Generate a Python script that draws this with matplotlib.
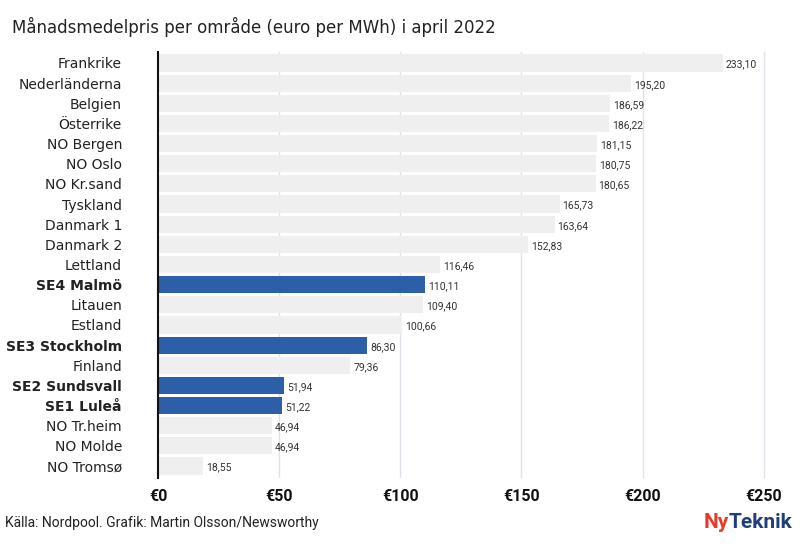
import numpy as np
import matplotlib.pyplot as plt

# Data
areas = ["Frankrike", "Nederländerna", "Belgien", "Österrike", "NO Bergen",
         "NO Oslo", "NO Kr.sand", "Tyskland", "Danmark 1", "Danmark 2",
         "Lettland", "SE4 Malmö", "Litauen", "Estland", "SE3 Stockholm",
         "Finland", "SE2 Sundsvall", "SE1 Luleå", "NO Tr.heim", "NO Molde",
         "NO Tromsø"]
prices = [233.10, 195.20, 186.59, 186.22, 181.15, 180.75, 180.65, 165.73,
          163.64, 152.83, 116.46, 110.11, 109.40, 100.66, 86.30, 79.36,
          51.94, 51.22, 46.94, 46.94, 18.55]
ticks = [0, 50, 100, 150, 200, 250]

GREY = "#efefef"
BLUE = "#2d5ea8"
NARROW = ["Roboto", "DejaVu Sans"]

fig = plt.figure(figsize=(8.08, 5.47), dpi=100)
ax = fig.add_axes([158 / 808, 69 / 547, 630 / 808, 426 / 547])

n = len(areas)
ypos = np.arange(n)
swedish = [a.startswith("SE") for a in areas]
colors = [BLUE if s else GREY for s in swedish]

ax.barh(ypos, prices, height=0.85, color=colors, zorder=2)
ax.set_xlim(0, 260)
spacing = (466 - 63) / (n - 1)
ax.set_ylim(n - 1 + 12 / spacing, -11 / spacing)

for x in ticks[1:]:
    ax.axvline(x, color="#dfe2e8", lw=1, zorder=1)

for y, v in zip(ypos, prices):
    ax.text(v + 1.2, y + 0.08, "{:.2f}".format(v).replace(".", ","),
            va="center", ha="left", fontsize=7.5, color="#333333", family=NARROW)

ax.set_yticks(ypos)
ax.set_yticklabels(areas)
for lab, s in zip(ax.get_yticklabels(), swedish):
    lab.set_fontsize(10)
    lab.set_color("#222222")
    if s:
        lab.set_fontweight("bold")

ax.set_xticks(ticks)
ax.set_xticklabels(["€{}".format(t) for t in ticks], fontsize=11.5,
                   fontweight="bold", color="#111111", family=NARROW)
ax.tick_params(axis="both", length=0)
ax.tick_params(axis="y", pad=26)
ax.tick_params(axis="x", pad=8)

for side in ["top", "right", "bottom"]:
    ax.spines[side].set_visible(False)
ax.spines["left"].set_linewidth(1.5)
ax.spines["left"].set_color("#111111")
ax.spines["left"].set_zorder(3)

fig.text(12 / 808, 1 - 27 / 547, "Månadsmedelpris per område (euro per MWh) i april 2022",
         fontsize=12, va="center", ha="left", color="#222222")
fig.text(5 / 808, 1 - 523 / 547, "Källa: Nordpool. Grafik: Martin Olsson/Newsworthy",
         fontsize=10, va="center", ha="left", color="#222222", family=NARROW)
teknik = fig.text(792 / 808, 1 - 522 / 547, "Teknik", fontsize=15, fontweight="bold",
                  color="#1f3f7a", va="center", ha="right", family=NARROW)
# "Ny" placed right before "Teknik"
ax.annotate("Ny", xy=(0, 0.5), xycoords=teknik, xytext=(0.5, 0),
            textcoords="offset points", fontsize=15, fontweight="bold",
            color="#e8392b", va="center", ha="right", family=NARROW,
            annotation_clip=False)

fig.savefig("out.png", dpi=100)
